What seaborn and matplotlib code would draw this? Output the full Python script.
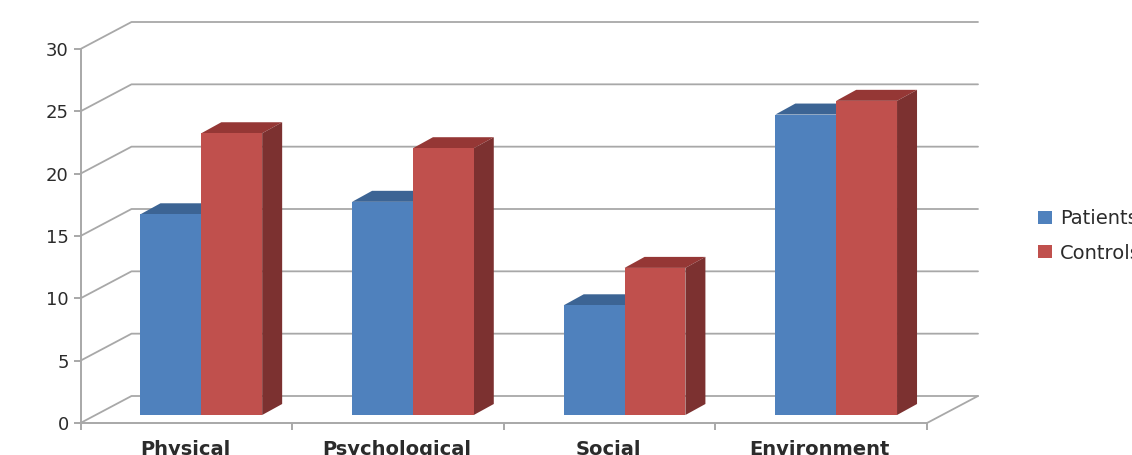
import matplotlib
matplotlib.use("Agg")
import matplotlib.pyplot as plt
import pandas as pd
import seaborn as sns
from matplotlib.lines import Line2D
from matplotlib.patches import Polygon
from matplotlib.transforms import IdentityTransform

# WHOQOL-style domain scores by group
domains = ["Physical", "Psychological", "Social", "Environment"]
patients = [16.1, 17.1, 8.8, 24.1]
controls = [22.6, 21.4, 11.8, 25.2]
groups = ["Patients", "Controls"]
y_ticks = [0, 5, 10, 15, 20, 25, 30]

WIDTH, HEIGHT = 1132, 455
DPI = 100
GRID = "#a8a8a8"
TEXT = "#2b2b2b"
FRONT = {"Patients": "#4f81bd", "Controls": "#c0504d"}
TOP = {"Patients": "#3c6494", "Controls": "#953735"}
SIDE = {"Patients": "#2f4f77", "Controls": "#7c3130"}

# Pixel layout of the pseudo-3D box
X0, X1 = 80.5, 927.0
Y0, Y30 = 423.0, 49.0
BACK = (51, 27)       # wall offset from the front plane
BAR_SHIFT = (15, 8)   # bars stand part-way into the floor
DEPTH = (20, 11)      # depth of each bar


def axes_rect(dx=0, dy=0):
    return [(X0 + dx) / WIDTH, (HEIGHT - Y0 + dy) / HEIGHT,
            (X1 - X0) / WIDTH, (Y0 - Y30) / HEIGHT]


sns.set_theme(style="white")
plt.rcParams["font.family"] = ["DejaVu Sans"]

fig = plt.figure(figsize=(WIDTH / DPI, HEIGHT / DPI), dpi=DPI, facecolor="white")

# Front plane: value axis, category axis and the walls
ax = fig.add_axes(axes_rect())
ax.set_xlim(-0.5, 3.5)
ax.set_ylim(0, 30)
ax.set_facecolor("none")
sns.despine(ax=ax)
for side in ("left", "bottom"):
    ax.spines[side].set_color(GRID)
    ax.spines[side].set_linewidth(1.4)
ax.set_yticks(y_ticks)
ax.set_yticklabels([str(v) for v in y_ticks], fontsize=13, color=TEXT)
ax.set_xticks([-0.5, 0.5, 1.5, 2.5, 3.5])
ax.set_xticklabels([])
ax.tick_params(axis="both", length=5, width=1.4, color=GRID, left=True, bottom=True, pad=3.5)

for i, name in enumerate(domains):
    ax.annotate(name, xy=(i, 0), xycoords="data", xytext=(-1, -12.5),
                textcoords="offset points", ha="center", va="top",
                fontsize=14, fontweight="bold", color=TEXT, annotation_clip=False)

# Back wall rules and the slanted lines leading to them
for v in y_ticks:
    px, py = ax.transData.transform((-0.5, v))
    qx, _ = ax.transData.transform((3.5, v))
    fig.add_artist(Line2D([px, px + BACK[0], qx + BACK[0]],
                          [py, py + BACK[1], py + BACK[1]],
                          color=GRID, lw=1.3, transform=IdentityTransform(), zorder=1))
px, py = ax.transData.transform((3.5, 0))
fig.add_artist(Line2D([px, px + BACK[0]], [py, py + BACK[1]],
                      color=GRID, lw=1.3, transform=IdentityTransform(), zorder=1))

# Bars sit on their own axes, nudged back onto the floor
ax_bars = fig.add_axes(axes_rect(*BAR_SHIFT), zorder=3)
table = pd.DataFrame({
    "domain": domains * 2,
    "score": patients + controls,
    "group": [groups[0]] * len(domains) + [groups[1]] * len(domains),
})
sns.barplot(data=table, x="domain", y="score", hue="group", hue_order=groups,
            palette=FRONT, order=domains, width=0.575, gap=0, saturation=1,
            ax=ax_bars, legend=True, zorder=3, linewidth=0)
ax_bars.set_xlim(-0.5, 3.5)
ax_bars.set_ylim(0, 30)
ax_bars.axis("off")

# Top and side faces, projected from each front face
for container, group in zip(ax_bars.containers, groups):
    for bar in container:
        (xa, ya) = ax_bars.transData.transform((bar.get_x(), 0))
        (xb, yb) = ax_bars.transData.transform((bar.get_x() + bar.get_width(), bar.get_height()))
        dx, dy = DEPTH
        top = [(xa, yb), (xb, yb), (xb + dx, yb + dy), (xa + dx, yb + dy)]
        side = [(xb, ya), (xb + dx, ya + dy), (xb + dx, yb + dy), (xb, yb)]
        for pts, colour in ((top, TOP[group]), (side, SIDE[group])):
            ax_bars.add_patch(Polygon(pts, closed=True, facecolor=colour, edgecolor="none",
                                      transform=IdentityTransform(), zorder=2, clip_on=False))

handles, labels = ax_bars.get_legend_handles_labels()
ax_bars.get_legend().remove()
fig.legend(handles, labels, loc="center left",
           bbox_to_anchor=(1038 / WIDTH, 1 - 236 / HEIGHT),
           frameon=False, fontsize=14, borderpad=0, borderaxespad=0,
           handlelength=0.72, handleheight=0.62,
           handletextpad=0.42, labelspacing=0.78, labelcolor=TEXT)

fig.savefig("out.png", dpi=DPI, facecolor="white")
